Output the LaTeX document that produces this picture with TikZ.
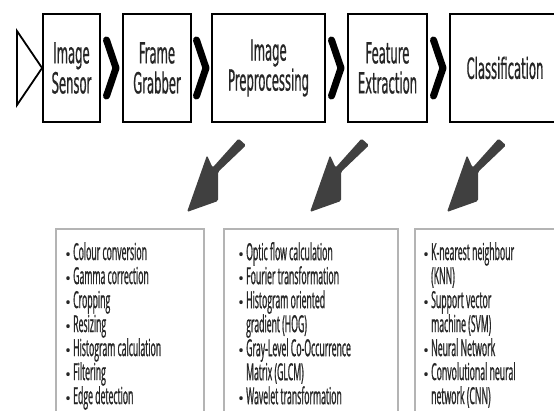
\documentclass[tikz,border=0pt]{standalone}
\usepackage{fontspec}
\usetikzlibrary{calc}
\newfontfamily\stagefont[FakeStretch=0.40,FakeBold=0.6]{DejaVu Sans}
\newfontfamily\listfont[FakeStretch=0.37,FakeBold=0.8]{Open Sans}
\newfontfamily\bulletfont{Open Sans}
\definecolor{txt}{HTML}{262626}
\definecolor{boxgray}{HTML}{B4B4B4}
\definecolor{arrowgray}{HTML}{404040}
\newcommand\bul{\makebox[8pt][l]{{\bulletfont\fontsize{16}{16}\selectfont\textbullet}}}
\newcommand\cont{\hspace*{8pt}}
\tikzset{
  pics/fatarrow/.style={code={
    \fill[arrowgray, rounded corners=1.5pt]
      (51.6,-73.4) -- (59,-66.7) -- (31,-40) -- (31,-11) -- (0,0)
      -- (20,-56.7) -- (25.6,-44.4) -- cycle;
  }}
}
\begin{document}
\begin{tikzpicture}[x=1pt,y=-1pt,
  stage/.style={draw=black, line width=1.8pt, minimum height=108pt, inner sep=0pt,
    align=center, text=txt, font=\stagefont\fontsize{29}{30}\selectfont},
  chev/.style={line width=7pt, line cap=round, line join=round},
  listbox/.style={draw=boxgray, line width=2.4pt, minimum height=200pt,
    anchor=north west, inner sep=0pt},
  listtext/.style={anchor=north west, align=left, inner sep=0pt, text=txt,
    font=\listfont\fontsize{23.5}{24}\selectfont}]
\useasboundingbox (0,0) rectangle (554,410);

% pipeline stages
\node[stage, minimum width=57pt]  (s1) at (71.5,68) {Image\\Sensor};
\node[stage, minimum width=68pt]  (s2) at (157,68)  {Frame\\Grabber};
\node[stage, minimum width=113pt] (s3) at (268.5,68) {Image\\Preprocessing};
\node[stage, minimum width=79pt]  (s4) at (387.5,68) {Feature\\Extraction};
\node[stage, minimum width=110pt] (s5) at (505,68) {Classification};

% input triangle
\draw[line width=1.8pt, line join=miter] (17,31) -- (s1.west) -- (17,105) -- cycle;

% chevrons between stages
\foreach \a/\b in {s1/s2, s2/s3, s3/s4, s4/s5} {
  \coordinate (m) at ($(\a.east)!0.5!(\b.west)$);
  \draw[chev] ($(m)+(-5,-28)$) -- ($(m)+(4.5,0)$) -- ($(m)+(-5,28)$);
}

% method lists
\node[listbox, minimum width=148pt] (pa) at (55,228) {};
\node[listbox, minimum width=174pt] (pb) at (223,228) {};
\node[listbox, minimum width=150pt] (pc) at (414,228) {};

\node[listtext] (ta) at (65,242) {\bul Colour conversion\\ \bul Gamma correction\\ \bul Cropping\\
  \bul Resizing\\ \bul Histogram calculation\\ \bul Filtering\\ \bul Edge detection};
\node[listtext] (tb) at (238,242) {\bul Optic flow calculation\\ \bul Fourier transformation\\
  \bul Histogram oriented\\ \cont gradient (HOG)\\ \bul Gray-Level Co-Occurrence\\
  \cont Matrix (GLCM)\\ \bul Wavelet transformation};
\node[listtext] (tc) at (423,242) {\bul K-nearest neighbour\\ \cont (KNN)\\ \bul Support vector\\
  \cont machine (SVM)\\ \bul Neural Network\\ \bul Convolutional neural\\ \cont network (CNN)};

% arrows pointing down to the lists
\pic at (187,212) {fatarrow};
\pic at (310,212) {fatarrow};
\pic at (447,212) {fatarrow};
\end{tikzpicture}
\end{document}
